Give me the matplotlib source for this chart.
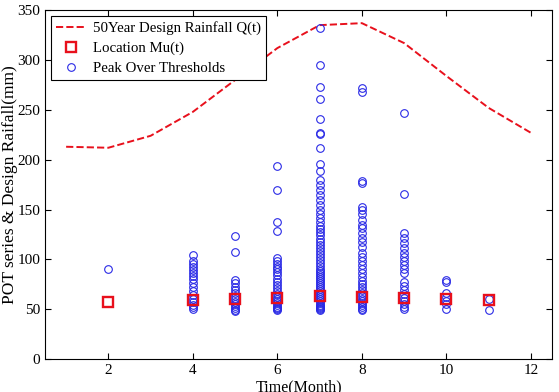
import matplotlib
matplotlib.use("Agg")
import matplotlib.pyplot as plt
import numpy as np

plt.rcParams['font.family'] = ['Liberation Serif', 'DejaVu Serif']

# 50-year design rainfall Q(t), months 1..12
design_months = [1, 2, 3, 4, 5, 6, 7, 8, 9, 10, 11, 12]
design_rain = [213, 212, 224, 248, 280, 312, 335, 337, 317, 284, 252, 227]

# location parameter Mu(t)
mu_months = [2, 4, 5, 6, 7, 8, 9, 10, 11]
mu_values = [57, 59, 60, 61, 63, 62, 61, 60, 59]

# peak over threshold values, per month
pot_m2 = [90]
pot_m4 = [104, 98, 95, 92, 89, 86, 83, 80, 76, 72, 68, 64, 60, 57, 54, 52, 50]
pot_m5 = [123, 107, 79, 76, 72, 69, 66, 63, 60, 57, 55, 53, 51, 49, 48]
pot_m6 = [194, 170, 138, 128, 101, 98, 95, 92, 90, 87, 84, 80, 77, 74, 71, 68,
          65, 62, 60, 58, 56, 54, 52, 51, 50, 49]
pot_m7 = [332, 295, 273, 261, 241, 227, 226, 212, 196, 189, 180, 175, 170, 165,
          160, 155, 150, 146, 142, 138, 134, 130, 127, 124, 120, 117, 114, 111,
          108, 105, 102, 99, 96, 93, 90, 88, 86, 84, 82, 80, 78, 76, 74, 72, 70,
          68, 66, 64, 62, 60, 58, 56, 54, 53, 52, 51, 50, 49]
pot_m8 = [272, 268, 179, 177, 153, 150, 146, 140, 135, 131, 126, 121, 117, 112,
          106, 102, 98, 94, 90, 86, 82, 78, 75, 72, 69, 66, 63, 60, 58, 56, 54,
          52, 50, 49]
pot_m9 = [247, 166, 126, 121, 116, 111, 106, 102, 98, 94, 90, 86, 77, 73, 69,
          65, 61, 58, 55, 52, 50]
pot_m10 = [79, 77, 66, 62, 58, 55, 50]
pot_m11 = [60, 49]

pot = {2: pot_m2, 4: pot_m4, 5: pot_m5, 6: pot_m6, 7: pot_m7, 8: pot_m8,
       9: pot_m9, 10: pot_m10, 11: pot_m11}
pot_x = [m for m, vals in pot.items() for v in vals]
pot_y = [v for m, vals in pot.items() for v in vals]

fig = plt.figure(figsize=(5.59, 3.92), dpi=100)
ax = fig.add_axes([0.0805, 0.084, 0.907, 0.890])

ax.plot(design_months, design_rain, '--', color='#e8101c', lw=1.4,
        label='50Year Design Rainfall Q(t)')
ax.plot(mu_months, mu_values, 's', mfc='none', mec='#e8101c', mew=1.7, ms=6.5,
        label='Location Mu(t)', zorder=3)
ax.plot(pot_x, pot_y, 'o', mfc='none', mec='#2a2ae6', mew=0.8, ms=5.5,
        label='Peak Over Thresholds', zorder=2)

ax.set_xlim(0.5, 12.5)
ax.set_ylim(0, 350)
ax.set_xticks([2, 4, 6, 8, 10, 12])
ax.set_yticks(np.arange(0, 351, 50))
ax.tick_params(direction='in', top=True, right=True, labelsize=11, length=4)
ax.set_xlabel('Time(Month)', fontsize=11.5)
ax.set_ylabel('POT series & Design Raifall(mm)', fontsize=12.5)
ax.xaxis.set_label_coords(0.5, -0.058, transform=ax.transAxes)
ax.yaxis.set_label_coords(-0.07, 0.5, transform=ax.transAxes)
ax.xaxis.label.set_va('top')
ax.yaxis.label.set_va('center')

leg = ax.legend(loc='upper left', fontsize=10.7, fancybox=False, framealpha=1,
                edgecolor='black', borderaxespad=0.4, handlelength=2.0,
                handletextpad=0.5, borderpad=0.35, labelspacing=0.42)
leg.get_frame().set_linewidth(0.8)

fig.savefig('out.png', dpi=100)
